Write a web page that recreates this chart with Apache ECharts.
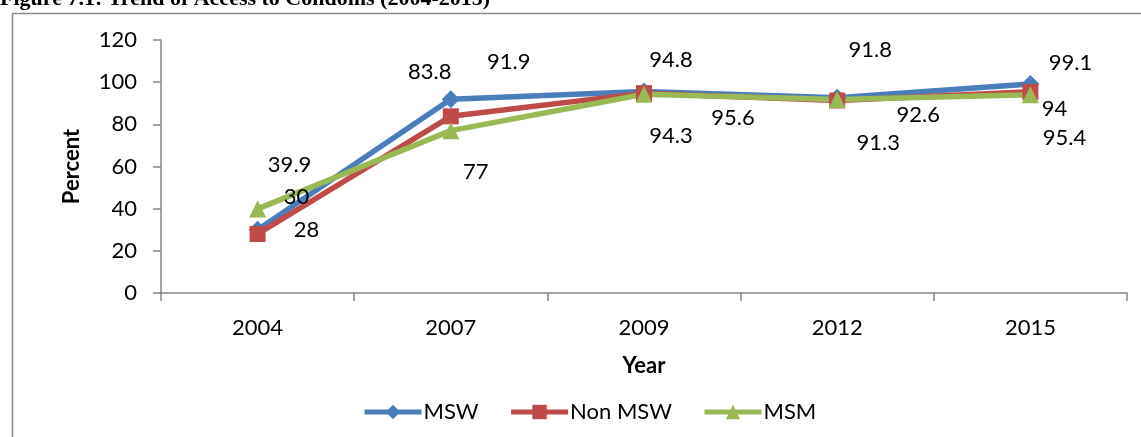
<!DOCTYPE html>
<html>
<head>
<meta charset="utf-8">
<script src="https://cdn.jsdelivr.net/npm/echarts@6/dist/echarts.min.js"></script>
<style>
  html, body { margin: 0; padding: 0; background: #fff; }
  #chart { width: 1141px; height: 437px; }
</style>
</head>
<body>
<div id="chart"></div>
<script>
  // data
  var years = ['2004', '2007', '2009', '2012', '2015'];
  var msw = [30, 91.9, 95.6, 92.6, 99.1];
  var nonMsw = [28, 83.8, 94.8, 91.3, 95.4];
  var msm = [39.9, 77, 94.3, 91.8, 94];
  var yTicks = [0, 20, 40, 60, 80, 100, 120];

  // where each data label sits relative to its point (px)
  var mswLabelPos = [[39, -33], [58, -37], [89, 26], [81, 17], [40, -21]];
  var nonMswLabelPos = [[49, -4], [-21, -44], [27, -33], [41, 42], [34, 46]];
  var msmLabelPos = [[32, -44], [25, 41], [27, 42], [33, -50], [24, 14]];

  var font = 'Lato, "Open Sans", sans-serif';
  var fs = 22;

  function withLabels(values, offsets) {
    return values.map(function (v, i) {
      return { value: v, label: { offset: offsets[i] } };
    });
  }

  function makeSeries(name, values, offsets, color, symbol, size) {
    return {
      name: name,
      type: 'line',
      data: withLabels(values, offsets),
      symbol: symbol,
      symbolSize: size,
      color: color,
      lineStyle: { width: 5.5, color: color },
      itemStyle: { color: color },
      label: {
        show: true,
        position: 'inside',
        color: '#000',
        fontSize: fs,
        fontFamily: font
      },
      animation: false
    };
  }

  var chart = echarts.init(document.getElementById('chart'));
  var option = {
    backgroundColor: '#fff',
    graphic: [
      {
        type: 'rect',
        left: 10, top: 11,
        shape: { width: 1200, height: 500 },
        style: { fill: 'none', stroke: '#898989', lineWidth: 1.5 }
      },
      {
        type: 'text',
        left: 0, top: -12,
        style: {
          text: 'Figure 7.1: Trend of Access to Condoms (2004-2015)',
          font: 'bold 22px "Liberation Serif", "Times New Roman", serif',
          fill: '#000'
        }
      }
    ],
    grid: { left: 161, right: 14, top: 40, bottom: 144 },
    legend: {
      data: ['MSW', 'Non MSW', 'MSM'],
      left: 357,
      top: 396,
      itemWidth: 57,
      itemHeight: 18,
      itemGap: 30,
      lineStyle: { width: 5 },
      textStyle: { fontSize: fs, fontFamily: font, color: '#000', padding: [0, 0, 0, -3] }
    },
    xAxis: {
      type: 'category',
      data: years,
      boundaryGap: true,
      name: 'Year',
      nameLocation: 'middle',
      nameGap: 62,
      nameTextStyle: { fontSize: fs, fontWeight: 'bold', fontFamily: font, color: '#000' },
      axisLine: { lineStyle: { color: '#868686', width: 1.5 } },
      axisTick: { show: true, length: 8, alignWithLabel: false, lineStyle: { color: '#868686', width: 1.5 } },
      axisLabel: { margin: 24, fontSize: fs, fontFamily: font, color: '#000' },
      splitLine: { show: false }
    },
    yAxis: {
      type: 'value',
      min: yTicks[0],
      max: yTicks[yTicks.length - 1],
      interval: yTicks[1] - yTicks[0],
      name: 'Percent',
      nameLocation: 'middle',
      nameGap: 78,
      nameTextStyle: { fontSize: fs, fontWeight: 'bold', fontFamily: font, color: '#000' },
      axisLine: { show: true, lineStyle: { color: '#868686', width: 1.5 } },
      axisTick: { show: true, length: 8, lineStyle: { color: '#868686', width: 1.5 } },
      axisLabel: { margin: 24, fontSize: fs, fontFamily: font, color: '#000' },
      splitLine: { show: false }
    },
    series: [
      makeSeries('MSW', msw, mswLabelPos, '#4A7EBB', 'diamond', 18),
      makeSeries('Non MSW', nonMsw, nonMswLabelPos, '#BE4B48', 'rect', 16),
      makeSeries('MSM', msm, msmLabelPos, '#98B954', 'triangle', 17)
    ]
  };
  chart.setOption(option);
</script>
</body>
</html>
